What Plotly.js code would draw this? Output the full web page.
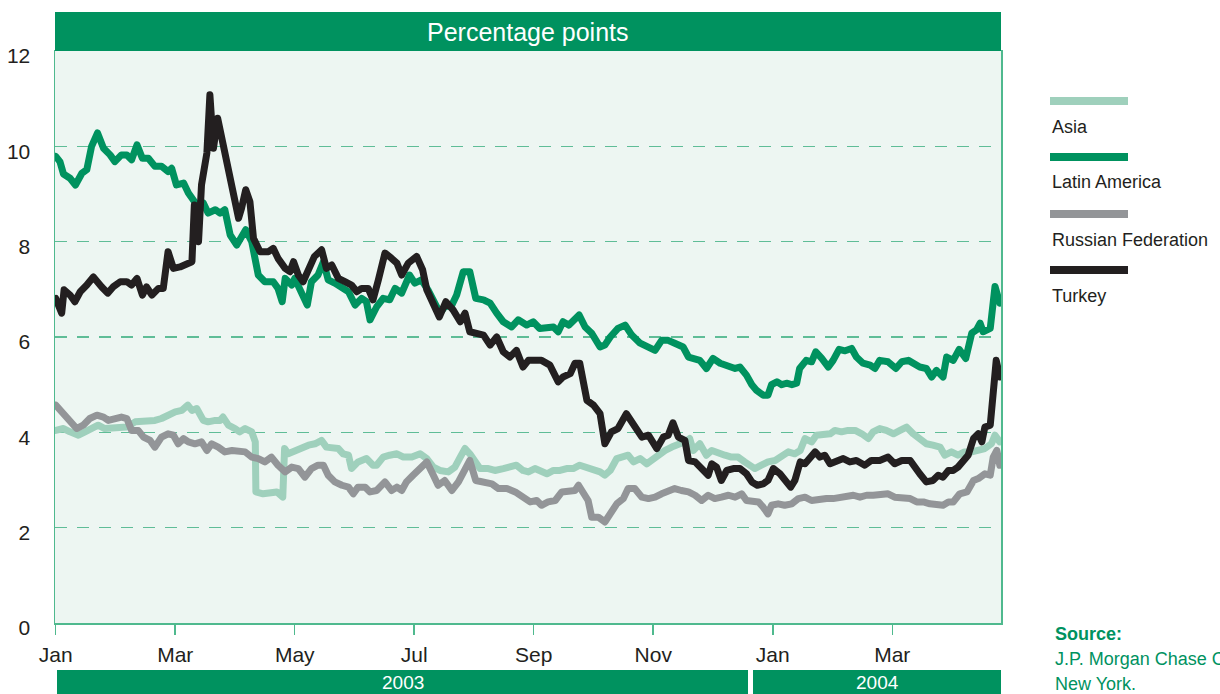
<!DOCTYPE html>
<html><head><meta charset="utf-8">
<script src="https://cdn.plot.ly/plotly-3.0.1.min.js"></script>
<style>
html,body{margin:0;padding:0;background:#fff;}
#chart{width:1220px;height:694px;}
path.js-line{stroke-linejoin:round !important;stroke-linecap:round !important;}
</style>
</head><body><div id="chart"></div>
<script>
// x = months since January 2003 (0 = Jan 2003, 12 = Jan 2004), y = percentage points
const tickMonths = [0, 2, 4, 6, 8, 10, 12, 14];
const tickLabels = ['Jan', 'Mar', 'May', 'Jul', 'Sep', 'Nov', 'Jan', 'Mar'];
const yTicks = [0, 2, 4, 6, 8, 10, 12];
const seriesNames = ['Asia', 'Latin America', 'Russian Federation', 'Turkey'];
const seriesColors = ['#9fd0bc', '#00925f', '#939598', '#231f20'];
const yearLabels = ['2003', '2004'];
const sourceLines = ['Source:', 'J.P. Morgan Chase Company,', 'New York.'];
const chartTitle = 'Percentage points';

const asia = [[0.00,4.04],[0.13,4.08],[0.24,4.01],[0.38,3.94],[0.49,4.01],[0.60,4.08],[0.71,4.15],[0.82,4.08],[0.94,4.08],[1.08,4.08],[1.19,4.11],[1.33,4.22],[1.49,4.22],[1.66,4.25],[1.77,4.29],[1.88,4.36],[2.00,4.43],[2.11,4.46],[2.21,4.57],[2.28,4.46],[2.36,4.50],[2.47,4.25],[2.55,4.22],[2.67,4.25],[2.75,4.25],[2.80,4.32],[2.89,4.15],[3.00,4.08],[3.08,4.01],[3.17,4.08],[3.28,4.01],[3.34,3.80],[3.35,2.75],[3.47,2.71],[3.59,2.75],[3.70,2.75],[3.80,2.64],[3.83,3.66],[3.89,3.55],[4.00,3.62],[4.12,3.66],[4.23,3.73],[4.34,3.76],[4.45,3.83],[4.53,3.69],[4.62,3.69],[4.73,3.66],[4.81,3.55],[4.90,3.52],[4.95,3.24],[5.06,3.38],[5.20,3.45],[5.31,3.31],[5.37,3.31],[5.48,3.48],[5.59,3.52],[5.71,3.55],[5.82,3.48],[5.96,3.48],[6.10,3.55],[6.21,3.45],[6.32,3.27],[6.43,3.20],[6.57,3.17],[6.68,3.27],[6.77,3.48],[6.85,3.66],[6.93,3.55],[7.02,3.41],[7.10,3.24],[7.24,3.24],[7.35,3.20],[7.49,3.24],[7.60,3.27],[7.71,3.31],[7.82,3.20],[7.91,3.17],[8.02,3.24],[8.13,3.20],[8.22,3.13],[8.33,3.20],[8.44,3.20],[8.55,3.24],[8.66,3.24],[8.77,3.31],[8.89,3.27],[9.00,3.20],[9.11,3.17],[9.19,3.10],[9.28,3.20],[9.39,3.45],[9.50,3.48],[9.58,3.52],[9.67,3.38],[9.78,3.45],[9.89,3.34],[10.00,3.45],[10.11,3.55],[10.20,3.62],[10.31,3.69],[10.42,3.73],[10.53,3.80],[10.61,3.87],[10.67,3.62],[10.78,3.76],[10.89,3.52],[10.98,3.62],[11.09,3.55],[11.20,3.52],[11.31,3.48],[11.42,3.48],[11.53,3.38],[11.62,3.31],[11.70,3.24],[11.81,3.31],[11.92,3.38],[12.04,3.41],[12.15,3.48],[12.26,3.59],[12.37,3.55],[12.46,3.62],[12.54,3.87],[12.65,3.80],[12.73,3.94],[12.84,3.94],[12.96,3.97],[13.04,4.04],[13.15,4.01],[13.26,4.04],[13.38,4.04],[13.49,3.97],[13.60,3.87],[13.68,4.01],[13.79,4.08],[13.90,4.04],[14.02,3.97],[14.13,4.04],[14.24,4.11],[14.35,3.97],[14.46,3.87],[14.57,3.76],[14.68,3.73],[14.80,3.69],[14.88,3.52],[14.99,3.59],[15.10,3.52],[15.21,3.59],[15.33,3.59],[15.44,3.62],[15.55,3.66],[15.66,3.76],[15.72,3.94],[15.80,3.80]];

const latinAmerica = [[0.00,9.79],[0.07,9.68],[0.13,9.42],[0.24,9.33],[0.33,9.19],[0.44,9.44],[0.52,9.51],[0.60,10.00],[0.70,10.28],[0.80,9.96],[0.91,9.82],[0.99,9.68],[1.10,9.82],[1.19,9.82],[1.27,9.72],[1.36,10.03],[1.45,9.75],[1.55,9.75],[1.66,9.58],[1.77,9.58],[1.88,9.47],[1.94,9.54],[2.02,9.19],[2.14,9.23],[2.22,9.02],[2.33,8.84],[2.40,8.70],[2.47,8.81],[2.55,8.60],[2.67,8.67],[2.75,8.60],[2.83,8.67],[2.92,8.14],[3.03,7.93],[3.11,8.07],[3.18,8.25],[3.28,8.00],[3.39,7.30],[3.50,7.16],[3.64,7.16],[3.72,7.02],[3.79,6.74],[3.84,7.23],[3.95,7.09],[4.00,7.23],[4.12,6.88],[4.21,6.67],[4.28,7.16],[4.39,7.30],[4.48,7.58],[4.56,7.20],[4.67,7.13],[4.79,7.05],[4.90,6.95],[5.01,6.67],[5.12,6.81],[5.20,6.74],[5.26,6.36],[5.37,6.63],[5.48,6.81],[5.59,6.78],[5.68,7.02],[5.79,6.92],[5.92,7.30],[6.01,7.13],[6.12,7.20],[6.23,6.99],[6.35,6.71],[6.43,6.50],[6.51,6.63],[6.63,6.67],[6.71,6.88],[6.82,7.37],[6.93,7.37],[7.03,6.81],[7.16,6.78],[7.27,6.71],[7.38,6.50],[7.49,6.32],[7.63,6.21],[7.74,6.36],[7.88,6.25],[7.99,6.32],[8.10,6.18],[8.22,6.21],[8.33,6.21],[8.41,6.11],[8.49,6.32],[8.59,6.25],[8.66,6.36],[8.76,6.46],[8.86,6.21],[8.97,6.08],[9.11,5.79],[9.19,5.83],[9.28,6.00],[9.41,6.18],[9.53,6.25],[9.64,6.04],[9.78,5.87],[9.92,5.79],[10.03,5.72],[10.14,5.93],[10.25,5.93],[10.36,5.87],[10.50,5.79],[10.59,5.58],[10.67,5.55],[10.78,5.51],[10.89,5.34],[11.00,5.55],[11.12,5.45],[11.26,5.39],[11.37,5.34],[11.45,5.37],[11.56,5.20],[11.65,5.00],[11.73,4.88],[11.84,4.78],[11.92,4.78],[11.98,5.00],[12.07,5.06],[12.15,5.00],[12.23,5.03],[12.32,5.00],[12.40,5.03],[12.45,5.34],[12.56,5.51],[12.65,5.48],[12.72,5.69],[12.82,5.55],[12.93,5.37],[13.01,5.51],[13.11,5.74],[13.21,5.71],[13.32,5.76],[13.40,5.58],[13.51,5.45],[13.63,5.41],[13.71,5.34],[13.79,5.51],[13.93,5.48],[14.06,5.34],[14.16,5.48],[14.27,5.51],[14.35,5.45],[14.46,5.37],[14.57,5.34],[14.66,5.16],[14.74,5.30],[14.85,5.16],[14.91,5.58],[15.02,5.51],[15.12,5.74],[15.23,5.55],[15.33,6.08],[15.41,6.15],[15.47,6.29],[15.52,6.11],[15.64,6.18],[15.72,7.06],[15.80,6.71]];

const russianFederation = [[0.00,4.57],[0.10,4.43],[0.21,4.29],[0.35,4.08],[0.46,4.15],[0.57,4.29],[0.69,4.36],[0.80,4.32],[0.88,4.25],[0.99,4.29],[1.10,4.32],[1.19,4.29],[1.27,4.04],[1.38,4.04],[1.47,3.90],[1.58,3.83],[1.66,3.69],[1.77,3.90],[1.88,3.97],[1.97,3.94],[2.05,3.76],[2.14,3.87],[2.22,3.80],[2.33,3.76],[2.44,3.80],[2.53,3.62],[2.61,3.76],[2.72,3.69],[2.83,3.59],[2.95,3.62],[3.06,3.62],[3.17,3.59],[3.28,3.48],[3.39,3.45],[3.50,3.38],[3.61,3.48],[3.72,3.31],[3.84,3.17],[3.95,3.27],[4.06,3.24],[4.17,3.06],[4.28,3.24],[4.39,3.31],[4.48,3.31],[4.56,3.10],[4.67,2.96],[4.79,2.89],[4.90,2.85],[4.98,2.71],[5.06,2.85],[5.18,2.85],[5.26,2.75],[5.37,2.78],[5.51,2.96],[5.62,2.78],[5.71,2.85],[5.79,2.78],[5.87,2.96],[5.98,3.10],[6.10,3.24],[6.21,3.38],[6.32,3.10],[6.40,2.89],[6.51,2.99],[6.63,2.78],[6.74,2.96],[6.85,3.24],[6.93,3.41],[7.03,2.99],[7.16,2.96],[7.30,2.92],[7.41,2.82],[7.55,2.82],[7.69,2.75],[7.82,2.64],[7.94,2.54],[8.05,2.57],[8.13,2.47],[8.24,2.54],[8.36,2.57],[8.47,2.75],[8.61,2.78],[8.69,2.78],[8.75,2.89],[8.83,2.75],[8.91,2.57],[8.97,2.22],[9.08,2.22],[9.19,2.12],[9.28,2.29],[9.39,2.50],[9.50,2.61],[9.58,2.82],[9.69,2.82],[9.81,2.64],[9.92,2.61],[10.03,2.64],[10.14,2.71],[10.25,2.75],[10.36,2.82],[10.47,2.78],[10.59,2.75],[10.70,2.68],[10.81,2.57],[10.92,2.68],[11.03,2.61],[11.14,2.64],[11.26,2.68],[11.37,2.64],[11.48,2.71],[11.56,2.57],[11.65,2.54],[11.76,2.54],[11.84,2.43],[11.92,2.29],[11.98,2.47],[12.09,2.50],[12.20,2.47],[12.32,2.50],[12.43,2.61],[12.54,2.64],[12.65,2.57],[12.79,2.61],[12.90,2.61],[13.01,2.61],[13.12,2.64],[13.24,2.68],[13.35,2.68],[13.46,2.64],[13.57,2.68],[13.68,2.68],[13.79,2.68],[13.93,2.71],[14.04,2.64],[14.16,2.61],[14.30,2.61],[14.41,2.54],[14.52,2.54],[14.63,2.50],[14.74,2.50],[14.85,2.47],[14.94,2.54],[15.02,2.54],[15.13,2.71],[15.25,2.75],[15.36,2.99],[15.44,3.03],[15.55,3.13],[15.64,3.10],[15.69,3.48],[15.75,3.62],[15.80,3.31]];

const turkey = [[0.00,6.81],[0.10,6.50],[0.14,6.99],[0.24,6.88],[0.32,6.74],[0.41,6.95],[0.52,7.09],[0.63,7.26],[0.77,7.05],[0.87,6.92],[0.96,7.05],[1.08,7.16],[1.19,7.16],[1.27,7.09],[1.36,7.23],[1.45,6.88],[1.52,7.05],[1.61,6.88],[1.72,7.02],[1.80,7.02],[1.88,7.79],[1.97,7.44],[2.08,7.47],[2.19,7.55],[2.28,7.58],[2.32,8.77],[2.39,8.00],[2.44,9.19],[2.53,9.86],[2.58,11.08],[2.64,9.96],[2.71,10.59],[2.78,10.17],[2.86,9.82],[2.95,9.26],[3.06,8.49],[3.11,8.70],[3.18,9.09],[3.25,8.84],[3.31,8.07],[3.42,7.79],[3.56,7.79],[3.64,7.86],[3.72,7.65],[3.84,7.44],[3.92,7.37],[3.98,7.58],[4.06,7.30],[4.14,7.16],[4.23,7.41],[4.33,7.69],[4.45,7.83],[4.53,7.44],[4.62,7.51],[4.73,7.23],[4.84,7.16],[4.95,7.09],[5.04,6.95],[5.12,7.02],[5.23,7.02],[5.31,6.78],[5.40,7.20],[5.51,7.76],[5.62,7.65],[5.71,7.55],[5.79,7.30],[5.90,7.55],[6.04,7.69],[6.14,7.41],[6.21,6.99],[6.32,6.71],[6.42,6.42],[6.53,6.74],[6.65,6.57],[6.77,6.32],[6.85,6.50],[6.93,6.11],[7.04,6.08],[7.16,6.04],[7.27,5.83],[7.38,6.00],[7.49,5.69],[7.60,5.58],[7.71,5.72],[7.82,5.37],[7.91,5.51],[8.02,5.51],[8.13,5.51],[8.27,5.41],[8.41,5.06],[8.49,5.16],[8.61,5.23],[8.69,5.45],[8.77,5.45],[8.89,4.67],[9.00,4.57],[9.11,4.39],[9.19,3.76],[9.30,4.01],[9.41,4.08],[9.55,4.39],[9.67,4.15],[9.81,3.90],[9.92,3.94],[10.06,3.66],[10.17,3.90],[10.25,3.94],[10.33,4.20],[10.42,3.90],[10.53,3.83],[10.59,3.41],[10.70,3.38],[10.84,3.20],[10.92,3.10],[10.98,3.34],[11.06,3.27],[11.14,2.99],[11.23,3.20],[11.34,3.24],[11.45,3.24],[11.56,3.13],[11.65,2.96],[11.74,2.89],[11.84,2.92],[11.92,2.99],[12.01,3.24],[12.12,3.13],[12.23,2.99],[12.30,2.85],[12.37,2.99],[12.46,3.38],[12.54,3.34],[12.62,3.45],[12.71,3.59],[12.79,3.48],[12.87,3.52],[12.96,3.34],[13.07,3.38],[13.18,3.45],[13.29,3.38],[13.40,3.41],[13.54,3.31],[13.65,3.41],[13.79,3.41],[13.93,3.48],[14.04,3.34],[14.16,3.41],[14.30,3.41],[14.38,3.24],[14.46,3.13],[14.57,2.96],[14.68,2.99],[14.77,3.10],[14.85,3.06],[14.94,3.20],[15.02,3.20],[15.10,3.27],[15.19,3.41],[15.27,3.52],[15.36,3.87],[15.44,3.97],[15.50,3.80],[15.55,4.11],[15.64,4.15],[15.66,4.39],[15.70,5.09],[15.74,5.51],[15.80,5.16]];

const allSeries = [asia, latinAmerica, russianFederation, turkey];

const FONT = 'Liberation Sans, Arial, Helvetica, sans-serif';
const TEXT = '#231f20';
const GREEN = '#00925f';
const AXISGREEN = '#4fb98e';

const traces = allSeries.map((s, i) => ({
  type: 'scatter', mode: 'lines', name: seriesNames[i],
  x: s.map(p => p[0]), y: s.map(p => p[1]),
  line: {color: seriesColors[i], width: 7},
  hoverinfo: 'skip', showlegend: false
}));

// pixel geometry helpers for decorations (plot area: x 55..1001, y 51..623)
const W = 1220, H = 694, L = 55, R = 219, T = 51, B = 71;
const pw = W - L - R, ph = H - T - B;
const px = v => (v - L) / pw;
const py = v => (H - B - v) / ph;

const shapes = [
  {type:'rect', xref:'paper', yref:'paper', x0:0, x1:1, y0:1, y1:py(12), fillcolor:GREEN, line:{width:0}},
  {type:'rect', xref:'paper', yref:'paper', x0:px(57), x1:px(748), y0:py(670), y1:py(700), fillcolor:GREEN, line:{width:0}},
  {type:'rect', xref:'paper', yref:'paper', x0:px(753), x1:px(1001), y0:py(670), y1:py(700), fillcolor:GREEN, line:{width:0}}
];
const legendLineY = [101, 157, 214, 270];
const legendTextY = [127, 182, 240, 296];
seriesNames.forEach((n, i) => {
  shapes.push({type:'line', xref:'paper', yref:'paper', x0:px(1050), x1:px(1128), y0:py(legendLineY[i]), y1:py(legendLineY[i]), line:{color:seriesColors[i], width:8}});
});

const annotations = [
  {text: chartTitle, xref:'paper', yref:'paper', x:0.5, y:py(32), showarrow:false, xanchor:'center', yanchor:'middle', font:{family:FONT, size:25, color:'#ffffff'}},
  {text: yearLabels[0], xref:'paper', yref:'paper', x:px(402.5), y:py(682), showarrow:false, xanchor:'center', yanchor:'middle', font:{family:FONT, size:19, color:'#ffffff'}},
  {text: yearLabels[1], xref:'paper', yref:'paper', x:px(877), y:py(682), showarrow:false, xanchor:'center', yanchor:'middle', font:{family:FONT, size:19, color:'#ffffff'}},
  {text: '<b>' + sourceLines[0] + '</b>', xref:'paper', yref:'paper', x:px(1053), y:py(634), showarrow:false, xanchor:'left', yanchor:'middle', font:{family:FONT, size:18, color:GREEN}},
  {text: sourceLines[1], xref:'paper', yref:'paper', x:px(1053), y:py(659), showarrow:false, xanchor:'left', yanchor:'middle', font:{family:FONT, size:18, color:GREEN}},
  {text: sourceLines[2], xref:'paper', yref:'paper', x:px(1053), y:py(684), showarrow:false, xanchor:'left', yanchor:'middle', font:{family:FONT, size:18, color:GREEN}}
];
seriesNames.forEach((n, i) => {
  annotations.push({text:n, xref:'paper', yref:'paper', x:px(1050), y:py(legendTextY[i]), showarrow:false, xanchor:'left', yanchor:'middle', font:{family:FONT, size:18, color:TEXT}});
});

const layout = {
  width: W, height: H,
  margin: {l:L, r:R, t:T, b:B, pad:0},
  paper_bgcolor: '#ffffff', plot_bgcolor: '#edf6f2',
  showlegend: false,
  font: {family: FONT, color: TEXT},
  xaxis: {
    range: [-0.012, 15.82], tickmode:'array', tickvals: tickMonths, ticktext: tickLabels,
    showgrid:false, zeroline:false, showline:true, mirror:true, linecolor:AXISGREEN, linewidth:1.5,
    ticks:'outside', ticklen:10, tickwidth:1.5, tickcolor:AXISGREEN,
    ticklabelstandoff: 2, tickfont:{family:FONT, size:21, color:TEXT}, fixedrange:true
  },
  yaxis: {
    range: [0, 12], tickmode:'array', tickvals: yTicks,
    showgrid:true, gridcolor:'#5fbd97', gridwidth:1.3, griddash:'12px,10px',
    zeroline:false, showline:true, mirror:true, linecolor:AXISGREEN, linewidth:1.5,
    ticks:'', ticklabelstandoff: 19, ticklabelshift: 5,
    tickfont:{family:FONT, size:21, color:TEXT}, fixedrange:true
  },
  shapes: shapes,
  annotations: annotations
};

Plotly.newPlot('chart', traces, layout, {staticPlot:true, displayModeBar:false});
</script>
</body></html>
